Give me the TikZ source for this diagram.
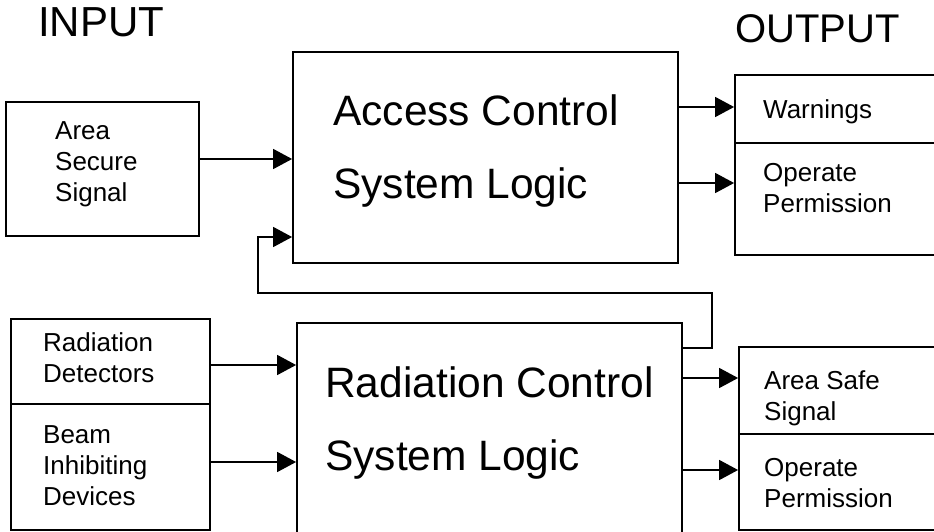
\documentclass[tikz,border=0pt]{standalone}
\usepackage{fontspec}
\setmainfont{Liberation Sans}
\usetikzlibrary{arrows.meta}
\begin{document}
\begin{tikzpicture}[x=1pt,y=-1pt,
  box/.style={draw,line width=1.8pt,rectangle,inner sep=0pt},
  conn/.style={line width=1.6pt},
  arr/.style={conn,-{Triangle[length=19pt,width=20pt]}},
  % multi-line labels are placed by the baseline of their last line
  lbl/.style={inner sep=0pt,anchor=base west,align=left,font=\fontsize{26}{31}\selectfont},
  big/.style={inner sep=0pt,anchor=base west,align=left,font=\fontsize{42.5}{72.5}\selectfont},
  head/.style={inner sep=0pt,anchor=base west}]
\useasboundingbox (0,0) rectangle (934,532);
\clip (0,0) rectangle (934,532);
\fill[white] (0,0) rectangle (934,532);

% headings
\node[head,font=\fontsize{42}{48}\selectfont] (inp) at (38,37) {INPUT};
\node[head,font=\fontsize{40}{48}\selectfont] (outp) at (735,43) {OUTPUT};

% boxes (x: left..right, y: top..bottom)
\node[box,minimum width=193pt,minimum height=134pt] (area) at (102.5,169) {};
\node[box,minimum width=385pt,minimum height=211pt] (acs) at (485.5,157.5) {};
\node[box,minimum width=215pt,minimum height=180pt] (outT) at (842.5,165) {};
\node[box,minimum width=199pt,minimum height=211pt] (radin) at (110.5,424.5) {};
\node[box,minimum width=385pt,minimum height=237pt] (rcs) at (489.5,441.5) {};
\node[box,minimum width=211pt,minimum height=183pt] (outB) at (844.5,438.5) {};

% dividers
\draw[line width=1.8pt] (outT.west |- 0,143) -- (outT.east |- 0,143);
\draw[line width=1.8pt] (radin.west |- 0,404) -- (radin.east |- 0,404);
\draw[line width=1.8pt] (outB.west |- 0,434) -- (outB.east |- 0,434);

% labels
\node[lbl] (tArea) at (55,201) {Area\\Secure\\Signal};
\node[big] (tAcs) at (333,198) {Access Control\\System Logic};
\node[lbl] (tWarn) at (763,119) {Warnings};
\node[lbl] (tOpT) at (763,212) {Operate\\Permission};
\node[lbl] (tDet) at (43,382) {Radiation\\Detectors};
\node[lbl] (tBeam) at (43,505) {Beam\\Inhibiting\\Devices};
\node[big] (tRcs) at (325,470) {Radiation Control\\System Logic};
\node[lbl] (tSafe) at (764,420) {Area Safe\\Signal};
\node[lbl] (tOpB) at (764,507) {Operate\\Permission};

% connectors
\draw[arr] (area.east |- 0,159) -- (acs.west |- 0,159);
\draw[arr] (acs.east |- 0,107) -- (outT.west |- 0,107);
\draw[arr] (acs.east |- 0,183) -- (outT.west |- 0,183);
\draw[arr] (radin.east |- 0,365) -- (rcs.west |- 0,365);
\draw[arr] (radin.east |- 0,462) -- (rcs.west |- 0,462);
\draw[arr] (rcs.east |- 0,378) -- (outB.west |- 0,378);
\draw[arr] (rcs.east |- 0,470) -- (outB.west |- 0,470);
% feedback from radiation logic to access logic
\draw[arr] (rcs.east |- 0,348) -- (712,348) -- (712,293) -- (258,293) -- (258,237) -- (acs.west |- 0,237);
\end{tikzpicture}
\end{document}
